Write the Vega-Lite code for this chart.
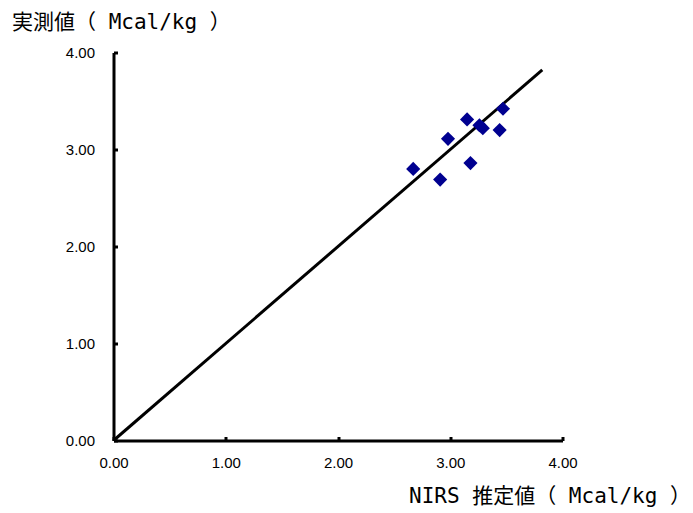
{
  "$schema": "https://vega.github.io/schema/vega-lite/v6.json",
  "autosize": "none",
  "width": 449,
  "height": 388,
  "padding": {"left": 113.5, "top": 52.5, "right": 130.5, "bottom": 72.5},
  "background": "white",
  "config": {
    "view": {"stroke": null},
    "axis": {
      "grid": false,
      "domainColor": "black",
      "domainWidth": 3,
      "tickColor": "black",
      "tickWidth": 3,
      "tickSize": -4,
      "labelFont": "Liberation Sans",
      "labelFontSize": 15,
      "labelColor": "black",
      "labelFlush": false,
      "labelOverlap": false,
      "titleFont": "DejaVu Sans Mono, Noto Sans CJK JP",
      "titleFontSize": 21,
      "titleFontWeight": "normal",
      "titleColor": "black"
    }
  },
  "datasets": {
    "points": [
      {"nirs": 2.67, "measured": 2.80},
      {"nirs": 2.91, "measured": 2.69},
      {"nirs": 2.98, "measured": 3.11},
      {"nirs": 3.15, "measured": 3.31},
      {"nirs": 3.18, "measured": 2.86},
      {"nirs": 3.26, "measured": 3.25},
      {"nirs": 3.29, "measured": 3.22},
      {"nirs": 3.44, "measured": 3.20},
      {"nirs": 3.47, "measured": 3.42}
    ],
    "fit": [
      {"nirs": 0, "measured": 0},
      {"nirs": 3.82, "measured": 3.82}
    ]
  },
  "layer": [
    {
      "data": {"name": "fit"},
      "mark": {"type": "line", "color": "black", "strokeWidth": 3, "clip": false},
      "encoding": {
        "x": {
          "field": "nirs", "type": "quantitative",
          "scale": {"domain": [0, 4], "nice": false, "zero": true},
          "axis": {
            "values": [0, 1, 2, 3, 4], "format": ".2f",
            "labelPadding": 19,
            "title": "NIRS 推定値（ Mcal/kg ）",
            "titleAlign": "right", "titleBaseline": "middle", "titleAnchor": null,
            "titleX": 577, "titleY": 56
          }
        },
        "y": {
          "field": "measured", "type": "quantitative",
          "scale": {"domain": [0, 4], "nice": false, "zero": true},
          "axis": {
            "values": [0, 1, 2, 3, 4], "format": ".2f",
            "labelPadding": 23,
            "title": "実測値（ Mcal/kg ）",
            "titleAngle": 0, "titleAlign": "left", "titleBaseline": "middle", "titleAnchor": null,
            "titleX": -102, "titleY": -30
          }
        }
      }
    },
    {
      "data": {"name": "points"},
      "mark": {"type": "point", "shape": "square", "angle": 45, "size": 100, "filled": true, "color": "#000090", "opacity": 1},
      "encoding": {
        "x": {"field": "nirs", "type": "quantitative"},
        "y": {"field": "measured", "type": "quantitative"}
      }
    }
  ]
}
